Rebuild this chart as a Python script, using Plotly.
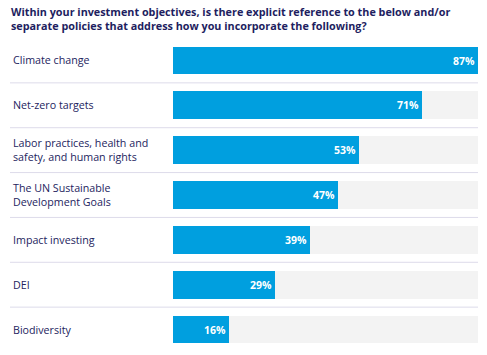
import plotly.graph_objects as go

categories = [
    "Climate change",
    "Net-zero targets",
    "Labor practices, health and<br>safety, and human rights",
    "The UN Sustainable<br>Development Goals",
    "Impact investing",
    "DEI",
    "Biodiversity",
]
values = [87, 71, 53, 47, 39, 29, 16]
title_text = ("Within your investment objectives, is there explicit reference to the below and/or<br>"
              "separate policies that address how you incorporate the following?")

W, H = 487, 355
L, R, T, B = 173, 9, 37.5, 2.5
pw = W - L - R
ph = H - T - B

track_max = max(values)
idx = list(range(len(categories)))

fig = go.Figure()
fig.add_trace(go.Bar(
    y=idx, x=[track_max] * len(values), orientation="h",
    marker=dict(color="#f3f3f3", line=dict(width=0)),
    width=0.62, hoverinfo="skip", showlegend=False,
))
fig.add_trace(go.Bar(
    y=idx, x=values, orientation="h",
    marker=dict(color="#009fdf", line=dict(width=0)),
    width=0.62, showlegend=False,
    text=[f"{v}%" for v in values], textposition="inside",
    insidetextanchor="end",
    textfont=dict(color="white", size=10.5, family="Open Sans"),
    texttemplate="<b>%{text}</b>",
))

shapes = []
for i in range(len(categories) - 1):
    shapes.append(dict(
        type="line", xref="paper", yref="y",
        x0=(10 - L) / pw, x1=1.0, y0=i + 0.5, y1=i + 0.5,
        line=dict(color="#dddbea", width=1),
    ))

annotations = []
for i, c in enumerate(categories):
    annotations.append(dict(
        xref="paper", yref="y", x=(11 - L) / pw, y=i, text=c,
        showarrow=False, xanchor="left", yanchor="middle", align="left",
        font=dict(family="Open Sans", size=10.7, color="#24245e"),
    ))
annotations.append(dict(
    xref="paper", yref="paper", x=(9 - L) / pw, y=1 + (T - 1) / ph,
    text="<b>" + title_text + "</b>", showarrow=False,
    xanchor="left", yanchor="top", align="left",
    font=dict(family="Open Sans", size=10.8, color="#1e1e5f"),
))

fig.update_layout(
    width=W, height=H,
    margin=dict(l=L, r=R, t=T, b=B),
    paper_bgcolor="white", plot_bgcolor="white",
    barmode="overlay",
    bargap=0,
    xaxis=dict(range=[0, track_max], visible=False, fixedrange=True),
    yaxis=dict(range=[len(categories) - 0.5, -0.5], visible=False, fixedrange=True),
    shapes=shapes,
    annotations=annotations,
    uniformtext=dict(minsize=8, mode="show"),
)

fig.write_html("out.html", config={"displayModeBar": False},
               post_script="document.body.style.margin='0';")
